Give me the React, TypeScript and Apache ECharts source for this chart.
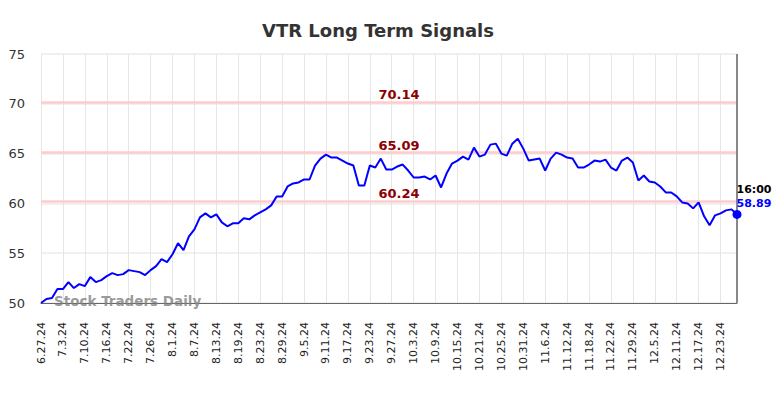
import React, { useEffect, useRef } from "react";
import * as echarts from "echarts";

const dates: string[] = [
  "6.27.24","6.28.24",
  "7.1.24","7.2.24","7.3.24","7.5.24","7.8.24","7.9.24","7.10.24","7.11.24","7.12.24","7.15.24","7.16.24","7.17.24","7.18.24","7.19.24","7.22.24","7.23.24","7.24.24","7.25.24","7.26.24","7.29.24","7.30.24","7.31.24",
  "8.1.24","8.2.24","8.5.24","8.6.24","8.7.24","8.8.24","8.9.24","8.12.24","8.13.24","8.14.24","8.15.24","8.16.24","8.19.24","8.20.24","8.21.24","8.22.24","8.23.24","8.26.24","8.27.24","8.28.24","8.29.24","8.30.24",
  "9.3.24","9.4.24","9.5.24","9.6.24","9.9.24","9.10.24","9.11.24","9.12.24","9.13.24","9.16.24","9.17.24","9.18.24","9.19.24","9.20.24","9.23.24","9.24.24","9.25.24","9.26.24","9.27.24","9.30.24",
  "10.1.24","10.2.24","10.3.24","10.4.24","10.7.24","10.8.24","10.9.24","10.10.24","10.11.24","10.14.24","10.15.24","10.16.24","10.17.24","10.18.24","10.21.24","10.22.24","10.23.24","10.24.24","10.25.24","10.28.24","10.29.24","10.30.24","10.31.24",
  "11.1.24","11.4.24","11.5.24","11.6.24","11.7.24","11.8.24","11.11.24","11.12.24","11.13.24","11.14.24","11.15.24","11.18.24","11.19.24","11.20.24","11.21.24","11.22.24","11.25.24","11.26.24","11.27.24","11.29.24",
  "12.2.24","12.3.24","12.4.24","12.5.24","12.6.24","12.9.24","12.10.24","12.11.24","12.12.24","12.13.24","12.16.24","12.17.24","12.18.24","12.19.24","12.20.24","12.23.24","12.24.24","12.26.24","12.27.24",
];

const prices: number[] = [
  50.0, 50.4, 50.5, 51.4, 51.4, 52.1, 51.5, 51.9, 51.7, 52.6,
  52.1, 52.3, 52.7, 53.0, 52.8, 52.9, 53.3, 53.2, 53.1, 52.8,
  53.3, 53.7, 54.4, 54.1, 54.9, 56.0, 55.3, 56.7, 57.4, 58.6,
  59.0, 58.6, 58.9, 58.1, 57.7, 58.0, 58.0, 58.5, 58.4, 58.8,
  59.1, 59.4, 59.8, 60.7, 60.7, 61.7, 62.0, 62.1, 62.4, 62.4,
  63.8, 64.5, 64.9, 64.6, 64.6, 64.3, 64.0, 63.8, 61.8, 61.8,
  63.8, 63.6, 64.5, 63.4, 63.4, 63.7, 63.9, 63.3, 62.6, 62.6,
  62.7, 62.4, 62.8, 61.6, 63.0, 64.0, 64.3, 64.7, 64.4, 65.6,
  64.7, 64.9, 65.9, 66.0, 65.0, 64.8, 66.0, 66.5, 65.5, 64.3,
  64.4, 64.5, 63.3, 64.5, 65.1, 64.9, 64.6, 64.5, 63.6, 63.6,
  63.9, 64.3, 64.2, 64.4, 63.6, 63.3, 64.3, 64.6, 64.1, 62.3,
  62.8, 62.2, 62.1, 61.7, 61.1, 61.1, 60.7, 60.1, 60.0, 59.5,
  60.1, 58.7, 57.8, 58.8, 59.0, 59.3, 59.4, 58.89,
];

const signalLevels: number[] = [70.14, 65.09, 60.24];
const lastTime = "16:00";
const titleText = "VTR Long Term Signals";
const watermark = "Stock Traders Daily";

const FONT = "DejaVu Sans";

export default function App() {
  const ref = useRef<HTMLDivElement>(null);
  useEffect(() => {
    if (!ref.current) return;
    const chart = echarts.init(ref.current, undefined, { renderer: "svg" });
    const lastIdx = prices.length - 1;
    chart.setOption({
      animation: false,
      textStyle: { fontFamily: FONT },
      title: {
        text: titleText,
        left: 257,
        top: 16,
        textStyle: { fontFamily: FONT, fontSize: 18, fontWeight: "bold", color: "#333" },
      },
      grid: { left: 41, right: 47, top: 54, bottom: 95 },
      xAxis: {
        type: "category",
        data: dates,
        boundaryGap: false,
        axisLine: { show: true, lineStyle: { color: "#666", width: 1 } },
        axisTick: { show: false },
        axisLabel: {
          interval: 3,
          rotate: 90,
          margin: 19,
          fontSize: 11,
          color: "#222",
          fontFamily: FONT,
        },
        splitLine: { show: true, interval: 3, lineStyle: { color: "#e6e6e6", width: 1 } },
      },
      yAxis: {
        type: "value",
        min: 50,
        max: 75,
        interval: 5,
        axisLine: { show: false },
        axisTick: { show: false },
        axisLabel: { fontSize: 13, color: "#333", margin: 16, fontFamily: FONT },
        splitLine: { show: true, lineStyle: { color: "#ebebeb", width: 1.5 } },
      },
      graphic: [
        {
          type: "text",
          left: 54,
          top: 294,
          z: 1,
          style: {
            text: watermark,
            fontFamily: FONT,
            fontSize: 13.5,
            fontWeight: "bold",
            fill: "rgba(128,128,128,0.8)",
          },
        },
      ],
      series: [
        {
          type: "line",
          data: prices,
          symbol: "none",
          z: 5,
          lineStyle: { color: "#0000ff", width: 2 },
          markLine: {
            silent: true,
            symbol: "none",
            z: 2,
            lineStyle: { color: "#ffcccc", width: 2.5, type: "solid" },
            label: {
              show: true,
              position: "insideMiddleTop",
              distance: 1,
              offset: [10, 0],
              color: "#8b0000",
              fontWeight: "bold",
              fontSize: 13,
              fontFamily: FONT,
              formatter: (p: any) => p.value.toFixed(2),
            },
            data: signalLevels.map((v) => ({ yAxis: v })),
          },
          markPoint: {
            symbol: "circle",
            symbolSize: 9,
            itemStyle: { color: "#0000ff" },
            label: {
              show: true,
              position: [4, -27],
              align: "left",
              verticalAlign: "top",
              formatter: () => `{t|${lastTime}}\n{v|${prices[lastIdx].toFixed(2)}}`,
              rich: {
                t: { color: "#000", fontWeight: "bold", fontSize: 11, lineHeight: 14, fontFamily: FONT },
                v: { color: "#0000ff", fontWeight: "bold", fontSize: 11, lineHeight: 14, fontFamily: FONT },
              },
            },
            data: [{ coord: [lastIdx, prices[lastIdx]] }],
          },
        },
        {
          type: "line",
          data: [],
          markLine: {
            silent: true,
            symbol: "none",
            label: { show: false },
            lineStyle: { color: "#888", width: 2, type: "solid" },
            data: [{ xAxis: dates[lastIdx] }],
          },
        },
      ],
    });
    return () => chart.dispose();
  }, []);
  return <div ref={ref} style={{ width: 784, height: 398, margin: -8 }} />;
}
